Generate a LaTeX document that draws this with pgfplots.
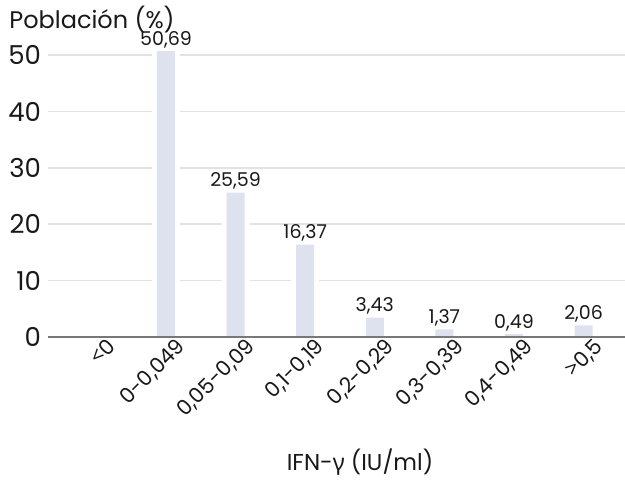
\documentclass[border=0pt]{standalone}
\usepackage{pgfplots}
\pgfplotsset{compat=1.18}
\usepackage{fontspec}
\setmainfont{Poppins}
\newfontfamily\gfont{Noto Sans}
\definecolor{barc}{RGB}{221,226,238}
\definecolor{gridc}{RGB}{226,226,226}
\definecolor{basec}{RGB}{120,120,120}
\definecolor{txt}{RGB}{25,25,25}
\begin{document}
\begin{tikzpicture}
\useasboundingbox (0,0) rectangle (312.5pt,244pt);
\begin{axis}[
  at={(24pt,75.5pt)}, anchor=south west,
  scale only axis, width=288.5pt, height=146.6pt,
  xmin=-0.695, xmax=7.595, ymin=0, ymax=52,
  clip=false,
  axis line style={draw=none},
  tick style={draw=none},
  ytick={0,10,...,50},
  ymajorgrids,
  grid style={gridc, line width=0.75pt},
  xtick={0,...,7},
  xticklabels={{{\gfont<}0},{0-0,049},{0,05-0,09},{0,1-0,19},{0,2-0,29},{0,3-0,39},{0,4-0,49},{{\gfont>}0,5}},
  /pgf/number format/assume math mode=true,
  xticklabel style={rotate=45, anchor=north east, font=\fontsize{10.5}{12}\selectfont, text=txt, xshift=4.5pt, yshift=-2pt, inner sep=1pt},
  yticklabel style={font=\fontsize{13}{15}\selectfont, text=txt, xshift=0pt},
]
\addplot[ybar, bar shift=0pt, bar width=14pt, fill=white, draw=none]
  coordinates {(1,50.69) (2,25.59) (3,16.37) (4,3.43) (5,1.37) (6,0.49) (7,2.06)};
\addplot[ybar, bar shift=0pt, bar width=9pt, fill=barc, draw=none,
  nodes near coords,
  nodes near coords style={font=\fontsize{9.5}{11}\selectfont, text=txt, inner sep=1.5pt,
    /pgf/number format/.cd, use comma, fixed, fixed zerofill, precision=2, assume math mode=true}]
  coordinates {(1,50.69) (2,25.59) (3,16.37) (4,3.43) (5,1.37) (6,0.49) (7,2.06)};
\draw[basec, line width=1pt] (rel axis cs:0,0) -- (rel axis cs:1,0);
\end{axis}
\node[anchor=base west, font=\fontsize{12}{14}\selectfont, text=txt, inner sep=0pt] at (4.5pt,229.5pt) {Población (\%)};
\node[anchor=base, font=\fontsize{11.5}{14}\selectfont, text=txt, inner sep=0pt] at (180pt,9pt) {IFN-{\gfont γ} (IU/ml)};
\end{tikzpicture}
\end{document}
